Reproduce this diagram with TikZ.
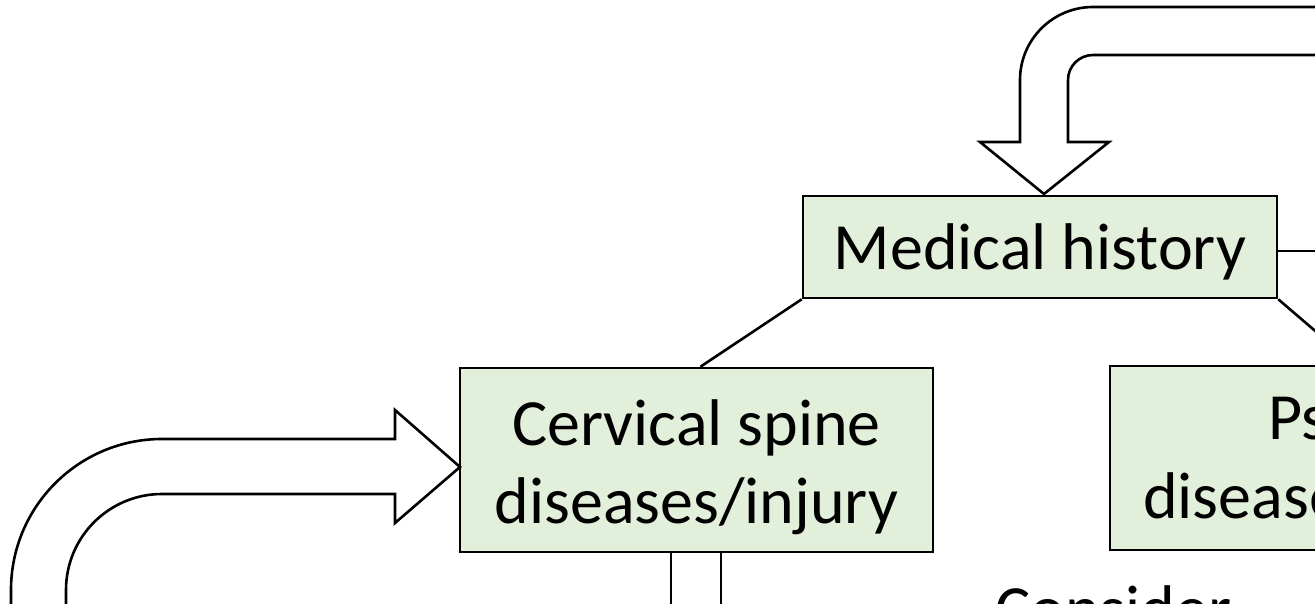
\documentclass[tikz,border=0pt]{standalone}
\usepackage{fontspec}
\setmainfont{Carlito}
\usetikzlibrary{calc}
\definecolor{boxgreen}{HTML}{E2EFDA}
\tikzset{
  x=1pt,y=1pt,
  greenbox/.style={draw=black,fill=boxgreen,line width=2.6pt,inner sep=0pt,align=center,
    font=\fontsize{66}{78}\selectfont},
  blockarrow/.style={draw=black,fill=white,line width=2.6pt,line join=miter},
  conn/.style={draw=black,line width=2.6pt},
  plaintext/.style={inner sep=0pt,font=\fontsize{66}{78}\selectfont}
}
\begin{document}
\begin{tikzpicture}
\useasboundingbox (0,0) rectangle (1315,603);
\clip (0,0) rectangle (1315,603);
% boxes
\node[greenbox,minimum width=474,minimum height=102,text height=66pt,text depth=20pt] (mh) at (1040,356) {Medical history};
\node[greenbox,minimum width=473,minimum height=184,text height=140pt,text depth=14pt] (cerv) at (696.5,143) {Cervical spine\\diseases/injury};
\node[greenbox,minimum width=473,minimum height=184] (psy) at (1346.5,145) {};
\node[plaintext,anchor=base west] (psyA) at (1268,164) {Psychiatric};
\node[plaintext,anchor=base west] (psyB) at (1143,85) {diseases};
\node[plaintext,anchor=base west] (cons) at (995,-28) {Consider};
% connectors
\coordinate (mhright) at (1330,352);
\draw[conn] (mh.south west) -- ($(cerv.north)+(4,0)$);
\draw[conn] ($(mh.east)+(0,-4)$) -- (mhright);
\draw[conn] (mh.south east) -- ($(psy.north)+(8,0)$);
% top U-turn arrow into Medical history
\coordinate (tipA) at (1044,409);
\draw[blockarrow] (1330,596) -- (1093,596) arc[start angle=90,end angle=180,radius=73]
  -- (1020,461) -- (980,461) -- (tipA) -- (1109,461) -- (1068,461) -- (1068,523)
  arc[start angle=180,end angle=90,radius=25] -- (1330,548);
% left U-turn arrow into cervical box
\coordinate (tipB) at (460,136);
\draw[blockarrow] (11,-20) -- (11,13) arc[start angle=180,end angle=90,radius=151]
  -- (395,164) -- (395,193) -- (tipB) -- (395,80) -- (395,109) -- (162,109)
  arc[start angle=90,end angle=180,radius=96] -- (66,-20);
% downward arrow shaft from cervical box
\coordinate (dl) at (671,-20);
\coordinate (dr) at (721,-20);
\draw[conn] (671,51) -- (dl);
\draw[conn] (721,51) -- (dr);
\end{tikzpicture}
\end{document}
